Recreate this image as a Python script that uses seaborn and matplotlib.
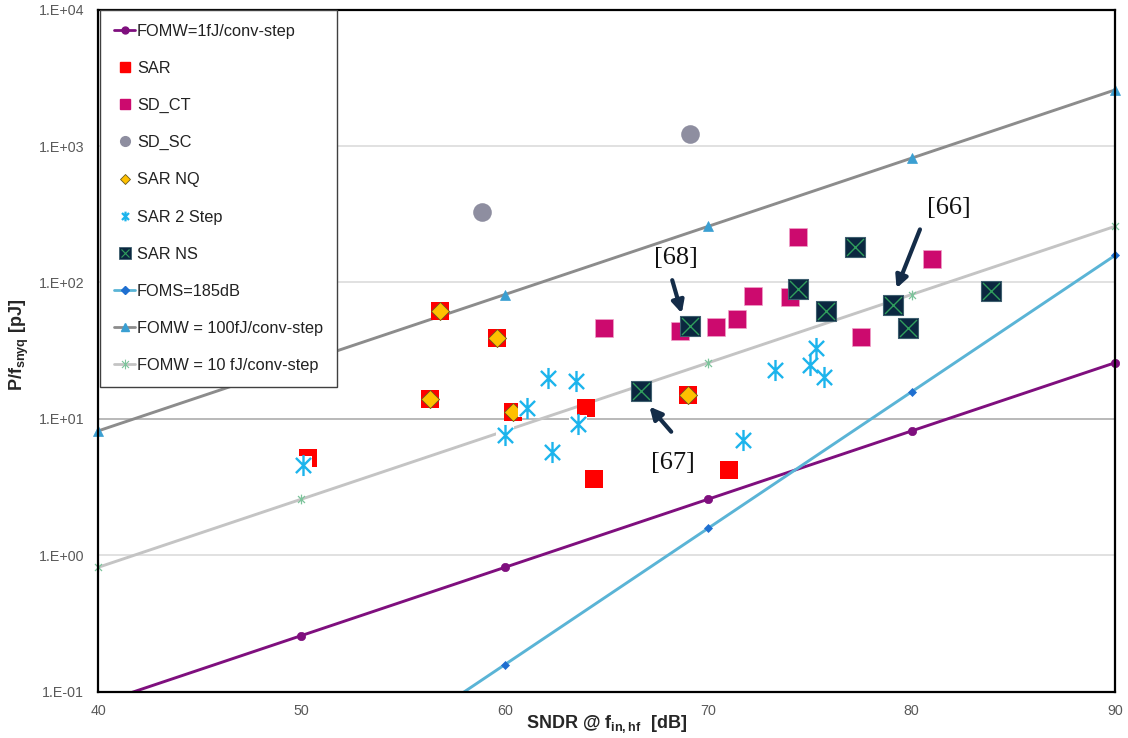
import matplotlib
matplotlib.use("Agg")
import matplotlib.pyplot as plt
from matplotlib.path import Path
from matplotlib.lines import Line2D
import seaborn as sns

# FOM reference lines, read at 10 dB steps
sndr_ref = [40, 50, 60, 70, 80, 90]
fomw_1fj = [0.0816, 0.258, 0.816, 2.58, 8.16, 25.8]
foms_185 = [0.00158, 0.0158, 0.158, 1.58, 15.8, 158]
fomw_100fj = [8.16, 25.8, 81.6, 258, 816, 2580]
fomw_10fj = [0.816, 2.58, 8.16, 25.8, 81.6, 258]

# published designs (SNDR in dB, P/fsnyq in pJ)
sar_x = [56.8, 59.6, 56.3, 60.4, 50.3, 64.0, 64.4, 69.0, 71.0]
sar_y = [62, 39, 14, 11.2, 5.2, 12, 3.6, 15, 4.2]
sdct_x = [64.9, 68.6, 70.4, 71.4, 72.2, 74.0, 74.4, 77.5, 81.0]
sdct_y = [46, 44, 47, 54, 79, 78, 214, 40, 149]
sdsc_x = [58.9, 69.1]
sdsc_y = [330, 1230]
sarnq_x = [56.8, 59.6, 56.3, 60.4, 69.0]
sarnq_y = [62, 39, 14, 11.2, 15]
sar2_x = [50.1, 60.0, 61.1, 62.1, 62.3, 63.5, 63.6, 71.7, 73.3, 75.0, 75.3, 75.7]
sar2_y = [4.6, 7.6, 12, 20, 5.7, 19, 9.1, 7.0, 23, 25, 33, 20.4]
sarns_x = [69.1, 66.7, 74.4, 75.8, 77.2, 79.1, 79.8, 83.9]
sarns_y = [48, 16, 89, 62, 181, 68, 46, 86]

# reference labels: text position, arrow tail, arrow head
ref_labels = ["[68]", "[67]", "[66]"]
ref_text_xy = [(68.42, 151), (68.26, 4.78), (81.85, 350)]
ref_tail_xy = [(68.23, 104), (68.18, 8.05), (80.41, 245)]
ref_head_xy = [(68.70, 59.4), (67.11, 12.3), (79.26, 90.7)]

x_ticks = [40, 50, 60, 70, 80, 90]
y_ticks = [0.1, 1, 10, 100, 1000, 10000]
y_tick_labels = ["1.E-01", "1.E+00", "1.E+01", "1.E+02", "1.E+03", "1.E+04"]

sns.set_style("white")
plt.rcParams["font.family"] = ["Liberation Sans", "DejaVu Sans"]
plt.rcParams["mathtext.fontset"] = "custom"
plt.rcParams["mathtext.rm"] = "Liberation Sans"
plt.rcParams["mathtext.bf"] = "Liberation Sans:bold"

purple = "#7f0f7e"
foms_col = "#5ab4d6"
foms_mk = "#1f6fd0"
gray100 = "#8c8c8c"
tri_col = "#3a9fd2"
gray10 = "#c4c4c4"
green10 = "#7cc49b"
red = "#ff0000"
magenta = "#cc0a6e"
sc_gray = "#8e8ea0"
gold = "#ffc000"
cyan = "#1cb4ec"
navy = "#0b2740"
xgreen = "#2f9e5c"
arrow_col = "#142c48"

# Excel style star: vertical bar plus an X
star = Path([(0, -1), (0, 1), (-0.72, -0.72), (0.72, 0.72), (-0.72, 0.72), (0.72, -0.72)],
            [Path.MOVETO, Path.LINETO] * 3)

Y_MIN, Y_MAX = 0.1, 10000

fig = plt.figure(figsize=(11.28, 7.38), dpi=100)
ax = fig.add_axes([0.0869, 0.0627, 0.9016, 0.9242])
ax.set_yscale("log")


def ref_line(yvals, lcolor, marker, ms, mcolor, mew=0.5):
    # line clipped to the axes, markers left unclipped like Excel does on the border
    sns.lineplot(x=sndr_ref, y=yvals, ax=ax, color=lcolor, lw=2.1, zorder=2)
    inside = [(x, y) for x, y in zip(sndr_ref, yvals) if Y_MIN <= y <= Y_MAX]
    ax.plot([p[0] for p in inside], [p[1] for p in inside], ls="none", marker=marker,
            ms=ms, mfc=mcolor, mec=mcolor, mew=mew, clip_on=False, zorder=2.5)


ref_line(fomw_1fj, purple, "o", 6, purple)
ref_line(foms_185, foms_col, "D", 4, foms_mk)
ref_line(fomw_100fj, gray100, "^", 7, tri_col)
ref_line(fomw_10fj, gray10, star, 7, green10, mew=0.9)

# designs
sns.scatterplot(x=sar_x, y=sar_y, ax=ax, marker="s", s=180, color=red, edgecolor=red,
                linewidth=0, zorder=3)
sns.scatterplot(x=sdct_x, y=sdct_y, ax=ax, marker="s", s=170, color=magenta,
                edgecolor="#f0a0c8", linewidth=0.5, zorder=3)
sns.scatterplot(x=sdsc_x, y=sdsc_y, ax=ax, marker="o", s=180, color=sc_gray,
                edgecolor=sc_gray, linewidth=0, zorder=3)
sns.scatterplot(x=sarnq_x, y=sarnq_y, ax=ax, marker="D", s=85, color=gold,
                edgecolor="#6b5a20", linewidth=0.6, zorder=4)
sns.scatterplot(x=sar2_x, y=sar2_y, ax=ax, marker="s", s=150, color="white",
                edgecolor="white", linewidth=0, zorder=5)
sns.scatterplot(x=sar2_x, y=sar2_y, ax=ax, marker=star, s=230, color=cyan,
                edgecolor=cyan, linewidth=1.7, zorder=5)
sns.scatterplot(x=sarns_x, y=sarns_y, ax=ax, marker="s", s=210, color=navy,
                edgecolor="#3f5f6f", linewidth=0.8, zorder=6)
sns.scatterplot(x=sarns_x, y=sarns_y, ax=ax, marker="x", s=150, color=xgreen,
                linewidth=1.0, zorder=7)

for lab, txy, tail, head in zip(ref_labels, ref_text_xy, ref_tail_xy, ref_head_xy):
    ax.text(txy[0], txy[1], lab, ha="center", va="center", fontsize=19,
            family=["Liberation Serif", "DejaVu Serif"], color="#111111", zorder=8)
    ax.annotate("", xy=head, xytext=tail,
                arrowprops=dict(arrowstyle="-|>", color=arrow_col, lw=3,
                                mutation_scale=18, shrinkA=0, shrinkB=0), zorder=8)

ax.set_xlim(40, 90)
ax.set_ylim(Y_MIN, Y_MAX)
ax.set_xticks(x_ticks)
ax.set_xticklabels([str(v) for v in x_ticks])
ax.set_yticks(y_ticks)
ax.set_yticklabels(y_tick_labels)
ax.minorticks_off()
ax.tick_params(axis="both", direction="out", length=4, width=1, color="#808080",
               labelsize=10.3, labelcolor="#595959", pad=6)
ax.tick_params(axis="x", pad=5)

ax.yaxis.grid(True, color="#d9d9d9", lw=1.1, zorder=0)
ax.xaxis.grid(False)
ax.set_axisbelow(True)
for tick_val, gl in zip(y_ticks, ax.get_ygridlines()):
    if tick_val == 10:
        gl.set_color("#a6a6a6")

for sp in ax.spines.values():
    sp.set_visible(True)
    sp.set_color("black")
    sp.set_linewidth(1.6)

ax.set_xlabel(r"SNDR @ f$_{\mathbf{in,hf}}$  [dB]", fontsize=13, fontweight="bold")
ax.set_ylabel(r"P/f$_{\mathbf{snyq}}$ [pJ]", fontsize=13, fontweight="bold")
ax.xaxis.set_label_coords(0.5, -0.031)
ax.yaxis.set_label_coords(-0.066, 0.508)

handles = [
    Line2D([], [], color=purple, lw=2, marker="o", ms=5, mfc=purple, mec=purple),
    Line2D([], [], ls="none", marker="s", ms=7, mfc=red, mec=red),
    Line2D([], [], ls="none", marker="s", ms=7, mfc=magenta, mec=magenta),
    Line2D([], [], ls="none", marker="o", ms=7, mfc=sc_gray, mec=sc_gray),
    Line2D([], [], ls="none", marker="D", ms=5, mfc=gold, mec="#6b5a20", mew=0.6),
    Line2D([], [], ls="none", marker=star, ms=7, mfc=cyan, mec=cyan, mew=1.6),
    (Line2D([], [], ls="none", marker="s", ms=8, mfc=navy, mec="#3f5f6f", mew=0.6),
     Line2D([], [], ls="none", marker="x", ms=6, mec=xgreen, mew=0.8)),
    Line2D([], [], color=foms_col, lw=2, marker="D", ms=4, mfc=foms_mk, mec=foms_mk),
    Line2D([], [], color=gray100, lw=2, marker="^", ms=6, mfc=tri_col, mec=tri_col),
    Line2D([], [], color=gray10, lw=2, marker=star, ms=7, mfc=green10, mec=green10, mew=0.8),
]
labels = ["FOMW=1fJ/conv-step", "SAR", "SD_CT", "SD_SC", "SAR NQ", "SAR 2 Step",
          "SAR NS", "FOMS=185dB", "FOMW = 100fJ/conv-step", "FOMW = 10 fJ/conv-step"]
leg = ax.legend(handles, labels, loc="upper left", bbox_to_anchor=(0.002, 1.0),
                borderaxespad=0, fontsize=11.8, labelspacing=1.35, handlelength=1.3,
                handletextpad=0.1, borderpad=0.85, fancybox=False, framealpha=1,
                edgecolor="#404040", labelcolor="#222222")
leg.get_frame().set_linewidth(1.0)
leg.set_zorder(10)

fig.savefig("out.png", dpi=100)
